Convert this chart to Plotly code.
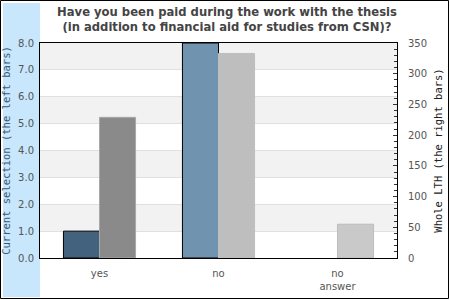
import plotly.graph_objects as go

categories = ["yes", "no", "no<br>answer"]
current_values = [1.0, 8.0, 0.0]
whole_values = [229, 333, 55]
left_ticks = [0, 1, 2, 3, 4, 5, 6, 7, 8]
left_tick_labels = ["0.0", "1.0", "2.0", "3.0", "4.0", "5.0", "6.0", "7.0", "8.0"]
right_ticks = [0, 50, 100, 150, 200, 250, 300, 350]

current_colors = ["#42627e", "#7094b0", "#a0bcd0"]
current_line_widths = [1, 1, 0]
whole_colors = ["#8a8a8a", "#bebebe", "#c9c9c9"]
whole_line_colors = ["#a8a8a8", "#bebebe", "#bcbcbc"]

W, H = 450, 300
L, R, T, B = 40, 53, 43, 42
pw, ph = W - L - R, H - T - B

def px_x(p):
    return (p - L) / pw

def px_y(p):
    return 1 - (p - T) / ph

fig = go.Figure()
fig.add_trace(go.Bar(
    x=categories, y=current_values, yaxis="y",
    offset=-0.303, width=0.303,
    marker=dict(color=current_colors, line=dict(color="#000000", width=current_line_widths)),
    showlegend=False,
))
fig.add_trace(go.Bar(
    x=categories, y=whole_values, yaxis="y2",
    offset=0.0, width=0.303,
    marker=dict(color=whole_colors, line=dict(color=whole_line_colors, width=1)),
    showlegend=False,
))

shapes = []
shapes.append(dict(type="rect", xref="paper", yref="paper",
                   x0=px_x(3), x1=px_x(40), y0=px_y(3), y1=px_y(297),
                   fillcolor="#c8e6fc", line=dict(width=0), layer="below"))
shapes.append(dict(type="rect", xref="paper", yref="paper",
                   x0=px_x(0.5), x1=px_x(448.5), y0=px_y(0.5), y1=px_y(298.5),
                   fillcolor="rgba(0,0,0,0)", line=dict(color="#000000", width=1)))
for lo in [1, 3, 5, 7]:
    shapes.append(dict(type="rect", xref="paper", yref="y",
                       x0=0, x1=1, y0=lo, y1=lo + 1,
                       fillcolor="#f2f2f2", line=dict(width=0), layer="below"))

fig.update_layout(
    width=W, height=H,
    margin=dict(l=L, r=R, t=T, b=B, autoexpand=False),
    paper_bgcolor="#ffffff", plot_bgcolor="#ffffff",
    barmode="overlay",
    shapes=shapes,
    font=dict(family="DejaVu Sans", size=10, color="#555555"),
    title=dict(
        text="Have you been paid during the work with the thesis<br>(in addition to financial aid for studies from CSN)?",
        x=px_x(227), xanchor="center", xref="paper",
        y=1 - 16 / H, yanchor="middle",
        font=dict(family="DejaVu Sans", size=11.6, color="#444444", weight="bold"),
    ),
    xaxis=dict(
        type="category", range=[-0.5, 2.5], automargin=False,
        showline=True, linecolor="#000000", linewidth=1, mirror=True,
        showgrid=False, ticks="", tickfont=dict(size=10, color="#555555"),
        ticklabelstandoff=6,
        fixedrange=True,
    ),
    yaxis=dict(
        range=[0, 8], tickvals=left_ticks, ticktext=left_tick_labels, automargin=False,
        showline=True, linecolor="#000000", linewidth=1,
        showgrid=True, gridcolor="#e0e0e0", gridwidth=1,
        ticks="", zeroline=False,
        tickfont=dict(size=10, color="#555555"),
        ticklabelstandoff=3,
        title=dict(text="Current selection (the left bars)", standoff=5,
                   font=dict(family="DejaVu Sans Mono", size=10.5, color="#3c5a76")),
    ),
    yaxis2=dict(
        range=[0, 350], tickvals=right_ticks, overlaying="y", side="right", automargin=False,
        showline=True, linecolor="#000000", linewidth=1,
        showgrid=False, zeroline=False,
        ticks="inside", ticklen=4, tickcolor="#333333",
        minor=dict(dtick=10, ticks="inside", ticklen=3, tickcolor="#333333"),
        tickfont=dict(size=10, color="#555555"),
        ticklabelstandoff=8,
        title=dict(text="Whole LTH (the right bars)", standoff=8,
                   font=dict(family="DejaVu Sans Mono", size=10.5, color="#222222")),
    ),
)

fig.write_html("out.html")
